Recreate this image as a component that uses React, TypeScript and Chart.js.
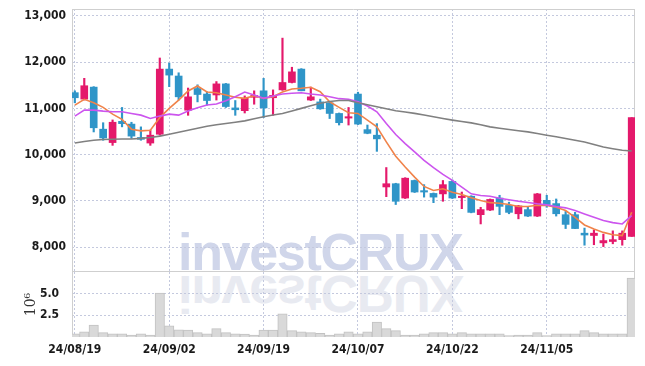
import React, { useEffect, useRef } from "react";
import { Chart, registerables } from "chart.js";
Chart.register(...registerables);

// ---- data ----
const dates = [
  "24/08/19","24/08/20","24/08/21","24/08/22","24/08/23","24/08/26","24/08/27","24/08/28","24/08/29","24/08/30",
  "24/09/02","24/09/03","24/09/04","24/09/05","24/09/06","24/09/09","24/09/10","24/09/11","24/09/12","24/09/13",
  "24/09/19","24/09/20","24/09/23","24/09/24","24/09/25","24/09/26","24/09/27","24/09/30","24/10/02","24/10/04",
  "24/10/07","24/10/08","24/10/10","24/10/11","24/10/14","24/10/15","24/10/16","24/10/17","24/10/18","24/10/21",
  "24/10/22","24/10/23","24/10/24","24/10/25","24/10/28","24/10/29","24/10/30","24/10/31","24/11/01","24/11/04",
  "24/11/05","24/11/06","24/11/07","24/11/08","24/11/11","24/11/12","24/11/13","24/11/14","24/11/15","24/11/18",
];
const tickIndexes = [0, 10, 20, 30, 40, 50];
const priceTicks = [8000, 9000, 10000, 11000, 12000, 13000];
const volumeTicks = [2.5, 5.0];

const opens = [
  11340,11200,11460,10550,10260,10720,10660,10370,10250,10440,
  11850,11700,10960,11430,11310,11290,11530,11010,10950,11240,
  11380,11230,11400,11560,11850,11180,11140,11120,10890,10790,
  11310,10540,10420,9300,9370,9060,9440,9220,9160,9150,
  9420,9070,9100,8700,8800,9060,8900,8720,8810,8670,
  9010,8940,8700,8700,8300,8250,8090,8120,8160,8230,
];
const highs = [
  11380,11650,11470,10690,10750,11020,10700,10600,10530,12090,
  11980,11770,11440,11510,11360,11580,11540,11170,11270,11380,
  11650,11400,12520,11890,11860,11460,11200,11130,10900,11020,
  11350,10640,10670,9720,9380,9500,9450,9350,9170,9440,
  9450,9190,9110,8860,9040,9120,8970,8900,8860,9160,
  9120,9040,8770,8750,8410,8370,8280,8350,8350,10800,
];
const lows = [
  11120,11180,10490,10310,10200,10600,10350,10310,10200,10420,
  11470,11180,10850,11140,11070,11180,11020,10850,10900,11090,
  10800,10850,11390,11550,11380,11170,10980,10780,10640,10640,
  10650,10450,10070,9090,8920,9050,9180,9080,8960,8990,
  9050,8830,8740,8500,8790,8700,8720,8610,8660,8660,
  8860,8670,8400,8400,8040,8050,8010,8070,8040,8230,
];
const closes = [
  11230,11490,10580,10360,10700,10670,10400,10330,10420,11850,
  11720,11250,11250,11300,11170,11530,11040,10970,11220,11280,
  11010,11280,11560,11790,11380,11250,10990,10890,10690,10820,
  10660,10460,10340,9370,8990,9490,9190,9190,9080,9350,
  9060,9100,8750,8810,9030,8880,8750,8890,8670,9150,
  8920,8720,8490,8400,8260,8300,8140,8160,8300,10800,
];
// volume in millions of shares
const volumes = [
  0.38,0.61,1.38,0.5,0.38,0.38,0.23,0.38,0.23,5.07,
  1.3,0.84,0.8,0.5,0.38,0.96,0.5,0.38,0.35,0.23,
  0.8,0.8,2.68,0.73,0.61,0.5,0.42,0.23,0.38,0.61,
  0.38,0.61,1.73,0.96,0.73,0.23,0.23,0.38,0.5,0.5,
  0.38,0.5,0.38,0.38,0.38,0.38,0.15,0.23,0.23,0.5,
  0.15,0.38,0.38,0.38,0.73,0.5,0.38,0.38,0.38,6.8,
];
const ma5 = [
  11070,11196,11122,11022,10876,10761,10550,10513,10528,10800,
  11000,11180,11376,11485,11354,11339,11289,11239,11217,11274,
  11217,11252,11354,11420,11435,11457,11361,11143,11022,10904,
  10891,10746,10600,10274,9963,9730,9513,9311,9224,9261,
  9187,9137,9065,9006,8960,8948,8919,8876,8876,8905,
  8898,8861,8789,8643,8478,8391,8317,8267,8246,8752,
];
const ma10 = [
  10833,10963,10963,10941,10926,10926,10891,10854,10783,10833,
  10876,10854,10941,11013,11072,11093,11165,11252,11354,11289,
  11217,11267,11311,11326,11339,11311,11289,11252,11210,11196,
  11143,11050,10926,10674,10435,10239,10057,9876,9717,9572,
  9441,9296,9152,9115,9100,9056,9022,8991,8963,8935,
  8912,8876,8848,8789,8717,8643,8572,8528,8500,8680,
];
const ma60 = [
  10252,10285,10311,10325,10333,10336,10339,10352,10370,10400,
  10441,10485,10528,10570,10615,10645,10674,10700,10730,10775,
  10817,10855,10891,10945,11000,11055,11109,11150,11170,11170,
  11122,11078,11035,10990,10948,10920,10891,10855,10817,10780,
  10746,10716,10687,10645,10600,10570,10543,10517,10491,10455,
  10420,10385,10348,10310,10274,10220,10165,10128,10093,10078,
];

// ---- styles ----
const UP = "#e4196b";
const DOWN = "#2f95c8";
const ORANGE = "#f0834a";
const PURPLE = "#cc55ee";
const GRAY = "#808080";
const GRID = "#c4c9de";
const FRAME = "#cfcfcf";
const FONT = "'Liberation Sans Narrow', 'DejaVu Sans Condensed', Roboto, sans-serif";
const X_MIN = -0.3;
const X_MAX = 59.35;

const framePlugin = (sides: { top: boolean; bottom: boolean }) => ({
  id: "frame",
  beforeDatasetsDraw(chart: any) {
    const { ctx, chartArea: a } = chart;
    ctx.save();
    ctx.strokeStyle = FRAME;
    ctx.lineWidth = 1;
    ctx.beginPath();
    const l = Math.round(a.left) + 0.5;
    const r = Math.round(a.right) - 0.5;
    const t = Math.round(a.top) + 0.5;
    const b = Math.round(a.bottom) - 0.5;
    ctx.moveTo(l, a.top);
    ctx.lineTo(l, a.bottom);
    ctx.moveTo(r, a.top);
    ctx.lineTo(r, a.bottom);
    if (sides.top) {
      ctx.moveTo(a.left, t);
      ctx.lineTo(a.right, t);
    }
    if (sides.bottom) {
      ctx.moveTo(a.left, b);
      ctx.lineTo(a.right, b);
    }
    ctx.stroke();
    ctx.restore();
  },
});

const xScale = (showLabels: boolean) => ({
  type: "linear",
  min: X_MIN,
  max: X_MAX,
  offset: false,
  afterBuildTicks: (s: any) => {
    s.ticks = tickIndexes.map((v) => ({ value: v }));
  },
  afterFit: (s: any) => {
    s.height = showLabels ? 29 : 0;
    s.paddingLeft = 0;
    s.paddingRight = 0;
  },
  ticks: {
    display: showLabels,
    autoSkip: false,
    maxRotation: 0,
    padding: 6,
    color: "#1a1a1a",
    font: { family: FONT, size: 12, weight: "bold" },
    callback: (v: any) => dates[Number(v)],
  },
  grid: { color: GRID, drawTicks: false, offset: false, lineWidth: 1 },
  border: { display: false, dash: [2, 2] },
});

export default function App() {
  const topRef = useRef<HTMLCanvasElement | null>(null);
  const botRef = useRef<HTMLCanvasElement | null>(null);

  useEffect(() => {
    const colors = opens.map((o, i) => (closes[i] >= o ? UP : DOWN));
    const top = new Chart(topRef.current as HTMLCanvasElement, {
      type: "bar",
      data: {
        datasets: [
          {
            type: "line",
            label: "MA60",
            data: ma60.map((v, i) => ({ x: i, y: v })),
            borderColor: GRAY,
            borderWidth: 1.6,
            pointRadius: 0,
            tension: 0,
            order: 0,
          },
          {
            type: "line",
            label: "MA10",
            data: ma10.map((v, i) => ({ x: i, y: v })),
            borderColor: PURPLE,
            borderWidth: 1.6,
            pointRadius: 0,
            tension: 0,
            order: 0,
          },
          {
            type: "line",
            label: "MA5",
            data: ma5.map((v, i) => ({ x: i, y: v })),
            borderColor: ORANGE,
            borderWidth: 1.6,
            pointRadius: 0,
            tension: 0,
            order: 0,
          },
          {
            type: "bar",
            label: "body",
            data: opens.map((o, i) => ({ x: i, y: [o, closes[i]] })),
            backgroundColor: colors,
            borderWidth: 0,
            barThickness: 7,
            grouped: false,
            order: 1,
          },
          {
            type: "bar",
            label: "wick",
            data: lows.map((l, i) => ({ x: i, y: [l, highs[i]] })),
            backgroundColor: colors,
            borderWidth: 0,
            barThickness: 1.5,
            grouped: false,
            order: 2,
          },
        ],
      } as any,
      options: {
        animation: false,
        responsive: false,
        events: [],
        layout: { padding: { top: 9, right: 10, bottom: 1, left: 0 } },
        plugins: { legend: { display: false }, tooltip: { enabled: false } },
        scales: {
          x: xScale(false),
          y: {
            type: "linear",
            min: 7460,
            max: 13150,
            afterBuildTicks: (s: any) => {
              s.ticks = priceTicks.map((v) => ({ value: v }));
            },
            afterFit: (s: any) => {
              s.width = 72;
              s.paddingTop = 0;
              s.paddingBottom = 0;
            },
            ticks: {
              padding: 6,
              color: "#1a1a1a",
              font: { family: FONT, size: 12, weight: "bold" },
              callback: (v: any) => Number(v).toLocaleString("en-US"),
            },
            grid: { color: GRID, drawTicks: false, lineWidth: 1 },
            border: { display: false, dash: [2, 2] },
          },
        },
      } as any,
      plugins: [framePlugin({ top: true, bottom: true })],
    });

    const bot = new Chart(botRef.current as HTMLCanvasElement, {
      type: "bar",
      data: {
        datasets: [
          {
            label: "Volume",
            data: volumes.map((v, i) => ({ x: i, y: v })),
            backgroundColor: "#d9d9d9",
            borderColor: "#c2c2c2",
            borderWidth: 1,
            barPercentage: 1,
            categoryPercentage: 1,
          },
        ],
      } as any,
      options: {
        animation: false,
        responsive: false,
        events: [],
        layout: { padding: { top: 0, right: 10, bottom: 0, left: 0 } },
        plugins: { legend: { display: false }, tooltip: { enabled: false } },
        scales: {
          x: xScale(true),
          y: {
            type: "linear",
            min: 0,
            max: 7.5,
            afterBuildTicks: (s: any) => {
              s.ticks = volumeTicks.map((v) => ({ value: v }));
            },
            afterFit: (s: any) => {
              s.width = 72;
              s.paddingTop = 0;
              s.paddingBottom = 0;
            },
            title: {
              display: true,
              text: "10⁶",
              color: "#333",
              font: { family: "'DejaVu Serif', serif", size: 14 },
              padding: { top: 23, bottom: 0 },
            },
            ticks: {
              padding: 13,
              color: "#1a1a1a",
              font: { family: FONT, size: 12, weight: "bold" },
              callback: (v: any) => Number(v).toFixed(1),
            },
            grid: { color: GRID, drawTicks: false, lineWidth: 1 },
            border: { display: false, dash: [2, 2] },
          },
        },
      } as any,
      plugins: [framePlugin({ top: false, bottom: false })],
    });

    return () => {
      top.destroy();
      bot.destroy();
    };
  }, []);

  const wmBase: React.CSSProperties = {
    position: "absolute",
    left: 178,
    top: 226,
    fontFamily: "'Liberation Sans', Arial, sans-serif",
    fontWeight: 700,
    fontSize: 52,
    lineHeight: "52px",
    letterSpacing: "-1.3px",
    whiteSpace: "nowrap",
    userSelect: "none",
  };

  return (
    <div style={{ position: "absolute", left: 0, top: 0, width: 645, height: 366, background: "#fff", overflow: "hidden" }}>
      <div style={{ ...wmBase, color: "#d0d6ea" }}>investCRUX</div>
      <div style={{ ...wmBase, color: "#e8eaf1", transform: "scaleY(-1)", transformOrigin: "50% 47px" }}>investCRUX</div>
      <canvas ref={topRef} width={645} height={273} style={{ position: "absolute", left: 0, top: 0, display: "block" }} />
      <canvas ref={botRef} width={645} height={94} style={{ position: "absolute", left: 0, top: 272, display: "block" }} />
    </div>
  );
}
